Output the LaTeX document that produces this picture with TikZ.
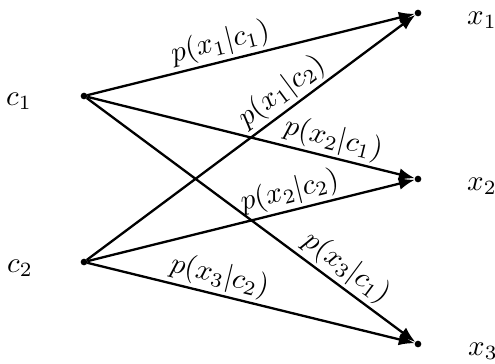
\documentclass[tikz,border=0pt]{standalone}
\usetikzlibrary{arrows.meta}
\begin{document}
\begin{tikzpicture}[x=0.345pt,y=-0.345pt,
  pt/.style={circle,fill,inner sep=0pt,minimum size=2.3pt,outer sep=0pt},
  arr/.style={thick,-{Latex[length=5.5pt,width=4.2pt]}},
  lab/.style={sloped,above,inner sep=1pt}]
\useasboundingbox (0,0) rectangle (495,363);
\node[pt] (c1) at (84,96) {};
\node[pt] (c2) at (84,262) {};
\node[pt] (x1) at (418,13) {};
\node[pt] (x2) at (418,179) {};
\node[pt] (x3) at (418,344) {};
\node (tc1) at (19,101) {$c_1$};
\node (tc2) at (20,268) {$c_2$};
\node (tx1) at (482,20) {$x_1$};
\node (tx2) at (482,186) {$x_2$};
\node (tx3) at (483,351) {$x_3$};
\draw[arr] (c1) -- node[lab,pos=0.42] {$p(x_1|c_1)$} (x1);
\draw[arr] (c2) -- node[lab,pos=0.627] {$p(x_1|c_2)$} (x1);
\draw[arr] (c1) -- node[lab,pos=0.738] {$p(x_2|c_1)$} (x2);
\draw[arr] (c2) -- node[lab,pos=0.632] {$p(x_2|c_2)$} (x2);
\draw[arr] (c1) -- node[lab,pos=0.757] {$p(x_3|c_1)$} (x3);
\draw[arr] (c2) -- node[lab,pos=0.391] {$p(x_3|c_2)$} (x3);
\end{tikzpicture}
\end{document}
